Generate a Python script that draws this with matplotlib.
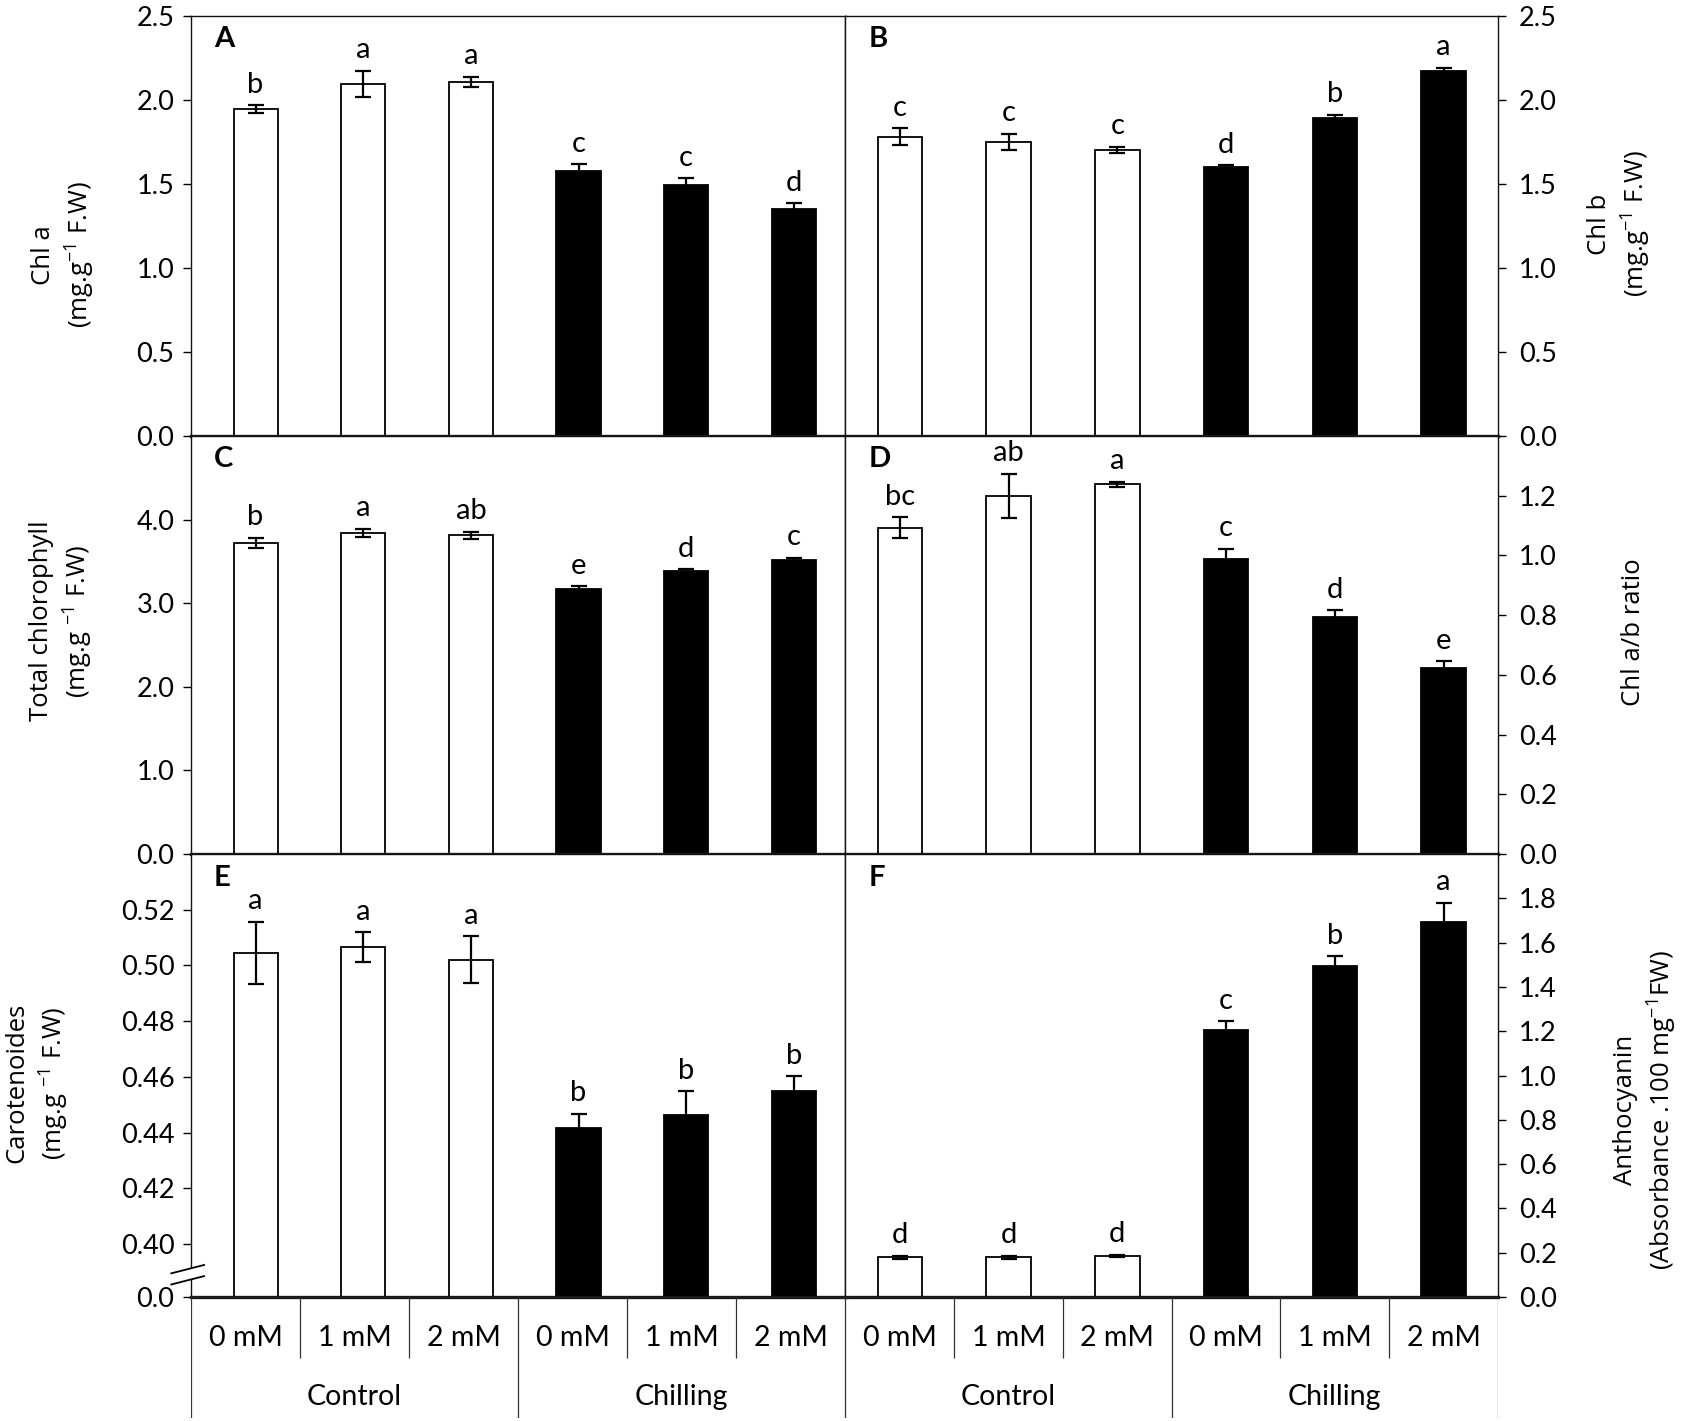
import matplotlib
matplotlib.use('Agg')
import matplotlib.pyplot as plt
import matplotlib.transforms as mtransforms
import matplotlib.patches as mpatches
from matplotlib.ticker import FormatStrFormatter

plt.rcParams['font.family'] = ['Lato', 'DejaVu Sans']
plt.rcParams['mathtext.fontset'] = 'custom'
plt.rcParams['mathtext.rm'] = 'Open Sans'
plt.rcParams['mathtext.it'] = 'Open Sans'

# ---------------- data ----------------
doses = ['0 mM', '1 mM', '2 mM']
groups = ['Control', 'Chilling']
bar_colors = ['white', 'white', 'white', 'black', 'black', 'black']

chl_a = [1.945, 2.095, 2.107, 1.577, 1.494, 1.351]
chl_a_err = [0.025, 0.08, 0.03, 0.04, 0.04, 0.034]
chl_a_let = ['b', 'a', 'a', 'c', 'c', 'd']

chl_b = [1.782, 1.752, 1.704, 1.599, 1.893, 2.171]
chl_b_err = [0.05, 0.048, 0.017, 0.014, 0.018, 0.022]
chl_b_let = ['c', 'c', 'c', 'd', 'b', 'a']

total_chl = [3.721, 3.84, 3.81, 3.174, 3.389, 3.521]
total_chl_err = [0.06, 0.05, 0.045, 0.03, 0.017, 0.024]
total_chl_let = ['b', 'a', 'ab', 'e', 'd', 'c']

ab_ratio = [1.093, 1.199, 1.238, 0.989, 0.793, 0.624]
ab_ratio_err = [0.035, 0.075, 0.008, 0.033, 0.024, 0.022]
ab_ratio_let = ['bc', 'ab', 'a', 'c', 'd', 'e']

carot = [0.5045, 0.5066, 0.5021, 0.4415, 0.4464, 0.455]
carot_err = [0.0112, 0.0054, 0.0084, 0.0053, 0.0085, 0.0052]
carot_let = ['a', 'a', 'a', 'b', 'b', 'b']

antho = [0.179, 0.179, 0.185, 1.205, 1.494, 1.694]
antho_err = [0.007, 0.007, 0.006, 0.041, 0.045, 0.087]
antho_let = ['d', 'd', 'd', 'c', 'b', 'a']

# ---------------- layout ----------------
W, H = 1683, 1421
fig = plt.figure(figsize=(W / 100, H / 100), dpi=100)
fig.patch.set_facecolor('white')

XL0, XMID, XR1 = 191, 845.5, 1498
ROWS = [(16, 436), (436, 854), (854, 1297)]
TAB = (1297, 1418)


def add_ax(x0, x1, ytop, ybot):
    return fig.add_axes([x0 / W, 1 - ybot / H, (x1 - x0) / W, (ybot - ytop) / H])


panels = [
    dict(vals=chl_a, err=chl_a_err, let=chl_a_let, tag='A', side='left', row=0,
         ylim=(0, 2.5), ticks=[0, 0.5, 1.0, 1.5, 2.0, 2.5], labels=None),
    dict(vals=chl_b, err=chl_b_err, let=chl_b_let, tag='B', side='right', row=0,
         ylim=(0, 2.5), ticks=[0, 0.5, 1.0, 1.5, 2.0, 2.5], labels=None),
    dict(vals=total_chl, err=total_chl_err, let=total_chl_let, tag='C', side='left', row=1,
         ylim=(0, 5.0), ticks=[0, 1.0, 2.0, 3.0, 4.0], labels=None),
    dict(vals=ab_ratio, err=ab_ratio_err, let=ab_ratio_let, tag='D', side='right', row=1,
         ylim=(0, 1.4), ticks=[0, 0.2, 0.4, 0.6, 0.8, 1.0, 1.2], labels=None),
    dict(vals=carot, err=carot_err, let=carot_let, tag='E', side='left', row=2,
         ylim=(0.381, 0.54), ticks=[0.381, 0.40, 0.42, 0.44, 0.46, 0.48, 0.50, 0.52],
         labels=['0.0', '0.40', '0.42', '0.44', '0.46', '0.48', '0.50', '0.52']),
    dict(vals=antho, err=antho_err, let=antho_let, tag='F', side='right', row=2,
         ylim=(0, 2.0), ticks=[0, 0.2, 0.4, 0.6, 0.8, 1.0, 1.2, 1.4, 1.6, 1.8], labels=None),
]

axes = {}
for p in panels:
    ytop, ybot = ROWS[p['row']]
    if p['side'] == 'left':
        ax = add_ax(XL0, XMID, ytop, ybot)
        ax.set_xlim(-0.6, 5.48)
    else:
        ax = add_ax(XMID, XR1, ytop, ybot)
        ax.set_xlim(-0.5, 5.5)
    x = list(range(len(p['vals'])))
    ax.bar(x, p['vals'], width=0.41, color=bar_colors, edgecolor='black', linewidth=1.3,
           yerr=p['err'], capsize=5.5,
           error_kw=dict(elinewidth=1.6, capthick=1.6, ecolor='black'), zorder=2)
    ax.set_ylim(*p['ylim'])
    ax.set_yticks(p['ticks'])
    if p['labels'] is not None:
        ax.set_yticklabels(p['labels'])
    else:
        ax.yaxis.set_major_formatter(FormatStrFormatter('%.1f'))
    ax.set_xticks([])
    for s in ax.spines.values():
        s.set_linewidth(1.0)
        s.set_color('#111111')
    ax.spines['bottom'].set_linewidth(2.4)
    ax.spines['bottom'].set_color('#1a1a1a')
    if p['side'] == 'left':
        ax.yaxis.tick_left()
        ax.tick_params(axis='y', direction='out', length=6, width=1.0, labelsize=19.5, pad=6)
    else:
        ax.yaxis.tick_right()
        ax.tick_params(axis='y', direction='out', length=6, width=1.0, labelsize=19.5, pad=9)
    for xi, v, e, t in zip(x, p['vals'], p['err'], p['let']):
        ax.annotate(t, (xi, v + e), xytext=(0, 9), textcoords='offset points',
                    ha='center', va='baseline', fontsize=21, zorder=3)
    ax.text(0.035, 0.975, p['tag'], transform=ax.transAxes, ha='left', va='top',
            fontsize=21, fontweight='bold')
    axes[p['tag']] = ax

# axis break on E
axE = axes['E']
tr = mtransforms.blended_transform_factory(axE.transAxes, axE.transData)
gap = mpatches.Polygon([(-0.03, 0.3855), (0.02, 0.3885), (0.02, 0.3925), (-0.03, 0.3895)],
                       closed=True, facecolor='white', edgecolor='none', transform=tr,
                       clip_on=False, zorder=5)
axE.add_patch(gap)
for y0 in (0.3855, 0.3895):
    axE.plot([-0.03, 0.02], [y0, y0 + 0.003], color='black', lw=1.3, transform=tr,
             clip_on=False, zorder=6)

# ---------------- y labels ----------------
lab_kw = dict(rotation=90, ha='center', va='center', fontsize=18.5, family='Open Sans',
              multialignment='center', linespacing=1.35)
fig.text(64 / W, 1 - 255 / H, 'Chl a\n(mg.g$^{-1}$ F.W)', **lab_kw)
fig.text(62 / W, 1 - 621 / H, 'Total chlorophyll\n(mg.g $^{-1}$ F.W)', **lab_kw)
fig.text(38 / W, 1 - 1083 / H, 'Carotenoides\n(mg.g $^{-1}$ F.W)', **lab_kw)
fig.text(1620 / W, 1 - 224 / H, 'Chl b\n(mg.g$^{-1}$ F.W)', **lab_kw)
fig.text(1634 / W, 1 - 632 / H, 'Chl a/b ratio', **lab_kw)
fig.text(1646 / W, 1 - 1110 / H, 'Anthocyanin\n(Absorbance .100 mg$^{-1}$FW)', **lab_kw)

# ---------------- category table ----------------
for x0, x1 in ((XL0, XMID), (XMID, XR1)):
    axt = add_ax(x0, x1, TAB[0], TAB[1])
    axt.set_xlim(0, 6)
    axt.set_ylim(0, 1)
    axt.axis('off')
    axt.vlines([0, 3, 6], 0, 1, color='#333333', lw=0.9)
    axt.vlines([1, 2, 4, 5], 0.496, 1, color='#333333', lw=0.9)
    for gi, g in enumerate(groups):
        for di, d in enumerate(doses):
            axt.text(gi * 3 + di + 0.5, 0.66, d, ha='center', va='center', fontsize=20.5)
        axt.text(gi * 3 + 1.5, 0.17, g, ha='center', va='center', fontsize=20.5)

fig.savefig('out.png', dpi=100, facecolor='white')
